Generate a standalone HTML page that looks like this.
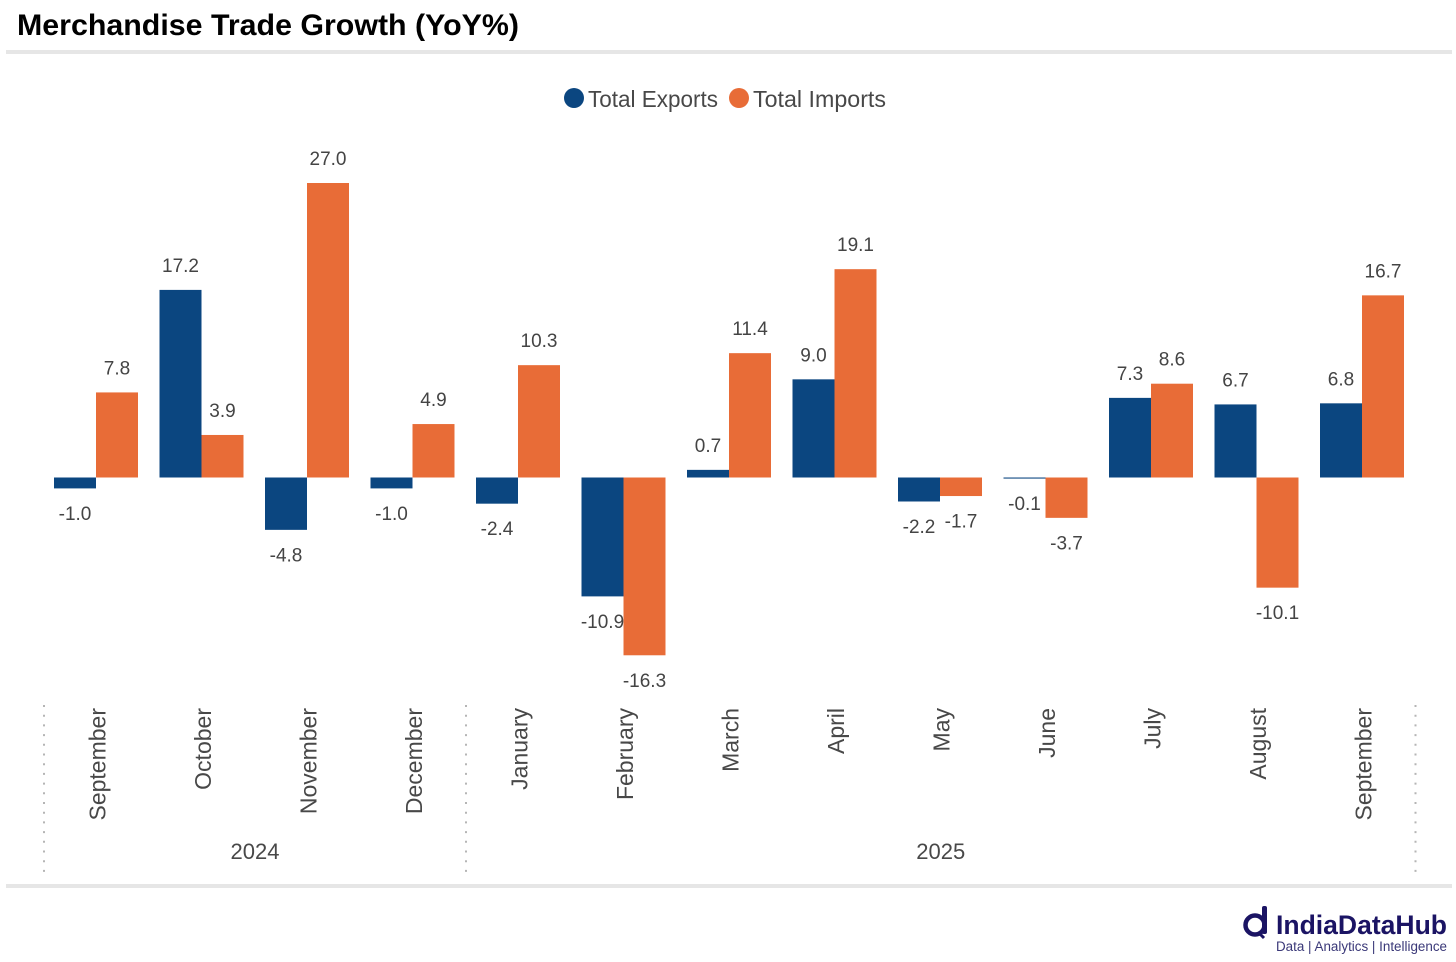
<!DOCTYPE html>
<html lang="en">
<head>
<meta charset="utf-8">
<title>Merchandise Trade Growth (YoY%)</title>
<style>
html,body{margin:0;padding:0;background:#fff;width:1456px;height:962px;overflow:hidden}
svg{display:block;font-family:"Liberation Sans",sans-serif}
.val{font-size:19px;fill:#444;text-anchor:middle}
.month{font-size:23px;fill:#484848;text-anchor:end}
.year{font-size:22px;fill:#484848;text-anchor:middle}
.leg{font-size:23px;fill:#484848}
</style>
</head>
<body>
<svg id="chart" width="1456" height="962" viewBox="0 0 1456 962" xmlns="http://www.w3.org/2000/svg">
  <rect width="1456" height="962" fill="#fff"/>
  <text x="17" y="35" font-size="30" font-weight="700" fill="#000" textLength="502" lengthAdjust="spacingAndGlyphs">Merchandise Trade Growth (YoY%)</text>
  <rect x="6" y="50" width="1446" height="4" fill="#e6e6e6"/>
  <rect x="6" y="884" width="1446" height="4" fill="#e6e6e6"/>
  <g>
    <circle cx="574" cy="98" r="10" fill="#0b4680"/>
    <text class="leg" x="588" y="107" textLength="130" lengthAdjust="spacingAndGlyphs">Total Exports</text>
    <circle cx="739" cy="98" r="10" fill="#e86c37"/>
    <text class="leg" x="753" y="107" textLength="133" lengthAdjust="spacingAndGlyphs">Total Imports</text>
  </g>
  <g id="bars"></g>
  <g id="labels"></g>
  <g id="axis"></g>
  <g>
    <circle cx="1255" cy="925" r="9.5" fill="none" stroke="#1b1464" stroke-width="4.5"/>
    <rect x="1262" y="906" width="5" height="28" rx="2" fill="#1b1464"/>
    <line x1="1258" y1="932" x2="1264" y2="938" stroke="#1b1464" stroke-width="3"/>
    <text x="1276" y="934" font-size="27" font-weight="700" fill="#1b1464" textLength="171" lengthAdjust="spacingAndGlyphs">IndiaDataHub</text>
    <text x="1276" y="951" font-size="13.5" fill="#3a3878" textLength="171" lengthAdjust="spacingAndGlyphs">Data | Analytics | Intelligence</text>
  </g>
</svg>
<script>
const months = ["September","October","November","December","January","February","March","April","May","June","July","August","September"];
const exportsGrowth = [-1.0,17.2,-4.8,-1.0,-2.4,-10.9,0.7,9.0,-2.2,-0.1,7.3,6.7,6.8];
const importsGrowth = [7.8,3.9,27.0,4.9,10.3,-16.3,11.4,19.1,-1.7,-3.7,8.6,-10.1,16.7];
const years = ["2024","2025"];
const yearMonthCounts = [4,9];

const NS = "http://www.w3.org/2000/svg";
const axisLeft = 44, groupStep = 105.5, barWidth = 42, markShift = -0.75;
const zeroY = 477.5, pxPerUnit = 10.907, labelGap = 25;
const xBand = i => axisLeft + groupStep * (i + 0.5);
const yScale = v => zeroY - v * pxPerUnit;
const make = (tag, parent, attrs, text) => {
  const el = document.createElementNS(NS, tag);
  for (const k in attrs) el.setAttribute(k, attrs[k]);
  if (text !== undefined) el.textContent = text;
  parent.appendChild(el);
  return el;
};
const barsG = document.getElementById("bars");
const labelsG = document.getElementById("labels");
const axisG = document.getElementById("axis");

function drawSeries(values, key, color, side) {
  values.forEach((v, i) => {
    const x = xBand(i) + markShift + (side < 0 ? -barWidth : 0);
    const top = Math.min(yScale(v), zeroY);
    const h = Math.abs(yScale(v) - zeroY);
    const bar = make("rect", barsG, {x: x, y: top, width: barWidth, height: h, fill: color});
    
    
    const ly = v >= 0 ? yScale(v) - labelGap + 7 : yScale(v) + labelGap + 6.5;
    const lab = make("text", labelsG, {x: x + barWidth / 2, y: ly, class: "val"}, v.toFixed(1));
    
    
  });
}
drawSeries(exportsGrowth, "exports", "#0b4680", -1);
drawSeries(importsGrowth, "imports", "#e86c37", 1);

months.forEach((m, i) => {
  const cx = xBand(i) + 8.5;
  const t = make("text", axisG, {x: cx, y: 708, class: "month", transform: "rotate(-90 " + cx + " 708)"}, m);
  
  
});

function separator(i, n) {
  const x = axisLeft + groupStep * i;
  const l = make("line", axisG, {x1: x, x2: x, y1: 705, y2: 873, stroke: "#b5b5b5", "stroke-width": 2, "stroke-dasharray": "2 7.7"});
  
  
}
let running = 0;
separator(0, 0);
years.forEach((y, n) => {
  const mid = axisLeft + groupStep * (running + yearMonthCounts[n] / 2);
  const t = make("text", axisG, {x: mid, y: 859, class: "year"}, y);
  
  
  running += yearMonthCounts[n];
  separator(running, n + 1);
});
</script>
</body>
</html>
